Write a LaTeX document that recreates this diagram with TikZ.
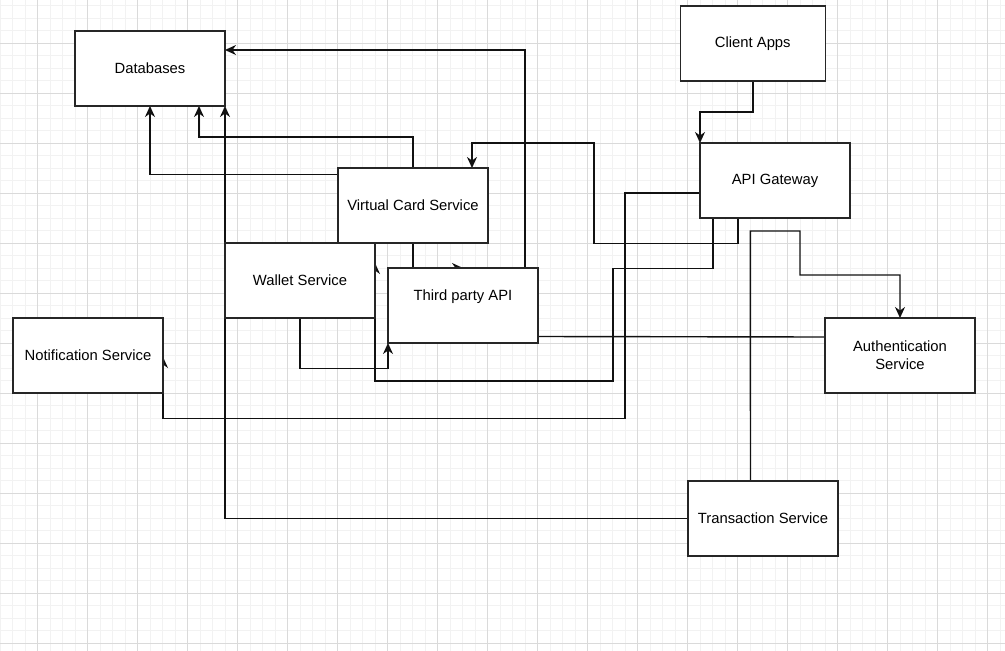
\documentclass[tikz,border=0pt]{standalone}
\usepackage{fontspec}
\setmainfont{Liberation Sans}
\usetikzlibrary{arrows.meta,calc}
\definecolor{gridmajor}{HTML}{DADADA}
\definecolor{gridminor}{HTML}{F2F2F2}
\definecolor{edge}{HTML}{111111}
\pgfdeclarelayer{gridlayer}
\pgfdeclarelayer{edges}
\pgfsetlayers{gridlayer,edges,main}
\tikzset{
  box/.style={draw=black!85, fill=white, line width=1.4pt, rectangle,
    minimum width=150pt, minimum height=75pt, inner sep=0pt, outer sep=0pt,
    font=\fontsize{14.8}{17.6}\selectfont, align=center},
  link/.style={draw=edge, line width=1.4pt, line join=miter},
  arr/.style={link, -{Stealth[length=11pt,width=10pt,inset=3.5pt]}}
}
\begin{document}
\begin{tikzpicture}[x=1pt,y=-1pt]
\useasboundingbox (0,0) rectangle (1005,651);
\begin{pgfonlayer}{gridlayer}
\fill[white] (0,0) rectangle (1005,651);
\foreach \i in {0,...,80} {
  \draw[gridminor, line width=0.8pt] ({12.5*\i},0) -- ({12.5*\i},651);
}
\foreach \j in {0,...,52} {
  \draw[gridminor, line width=0.8pt] (0,{5.8+12.5*\j}) -- (1005,{5.8+12.5*\j});
}
\foreach \i in {0,...,20} {
  \draw[gridmajor, line width=0.9pt] ({37.5+50*\i},0) -- ({37.5+50*\i},651);
}
\foreach \j in {0,...,12} {
  \draw[gridmajor, line width=0.9pt] (0,{43.3+50*\j}) -- (1005,{43.3+50*\j});
}
\end{pgfonlayer}

\node[box] (db) at (150,68.5) {Databases};
\node[box, minimum width=145pt] (client) at (752.8,43.5) {Client Apps};
\node[box] (api) at (775,180.5) {API Gateway};
\node[box] (vcs) at (413,205.5) {Virtual Card Service};
\node[box] (wallet) at (300,280.5) {Wallet Service};
\node[box, label={[font=\fontsize{14.8}{17.6}\selectfont, yshift=9pt]center:Third party API}] (third) at (463,305.5) {};
\node[box] (notif) at (88,355.5) {Notification Service};
\node[box] (auth) at (900,355.5) {Authentication\\Service};
\node[box] (trans) at (763,518.5) {Transaction Service};

\begin{pgfonlayer}{edges}
% Client Apps -> API Gateway
\draw[arr] (client.south) -- (752.8,112) -| (api.north west);
% API Gateway -> Virtual Card Service
\draw[arr] ($(api.south)+(-37,0)$) -- (738,243.5) -- (594,243.5) -- (594,143) -| ($(vcs.north)+(59,0)$);
% API Gateway -> Wallet Service
\draw[arr] ($(api.south)+(-62,0)$) -- (713,268.5) -- (613,268.5) -- (613,381) -- (375,381) -- ($(wallet.east)+(0,-17.5)$);
% Wallet Service -> Third party API
\draw[arr] (wallet.south) -- (300,368.5) -| (third.south west);
% Virtual Card Service -> Third party API
\draw[arr] (vcs.south) |- (third.north);
% Third party API -> Databases
\draw[arr] ($(third.north)+(62,0)$) |- ($(db.east)+(0,-18.5)$);
% Virtual Card Service -> Databases
\draw[arr] (vcs.north) -- (413,137) -| ($(db.south)+(49,0)$);
\draw[arr] ($(vcs.west)+(0,-31)$) -| (db.south);
% Transaction Service -> Databases
\draw[arr] (trans.west) -| (db.south east);
% API Gateway -> Notification Service
\draw[arr] ($(api.west)+(0,12.5)$) -- (625,193) -- (625,418.5) -- (163,418.5) -- ($(notif.east)+(0,1.5)$);
% Transaction Service -> Authentication Service
\draw[arr] ($(trans.north)+(-12.5,0)$) -- (750.3,231) -- (800,231) -- (800,275) -| (auth.north);
% Third party API -- Authentication Service
\draw[link] ($(third.east)+(0,31)$) -- ($(auth.west)+(0,-18.5)$);
\end{pgfonlayer}
\end{tikzpicture}
\end{document}
